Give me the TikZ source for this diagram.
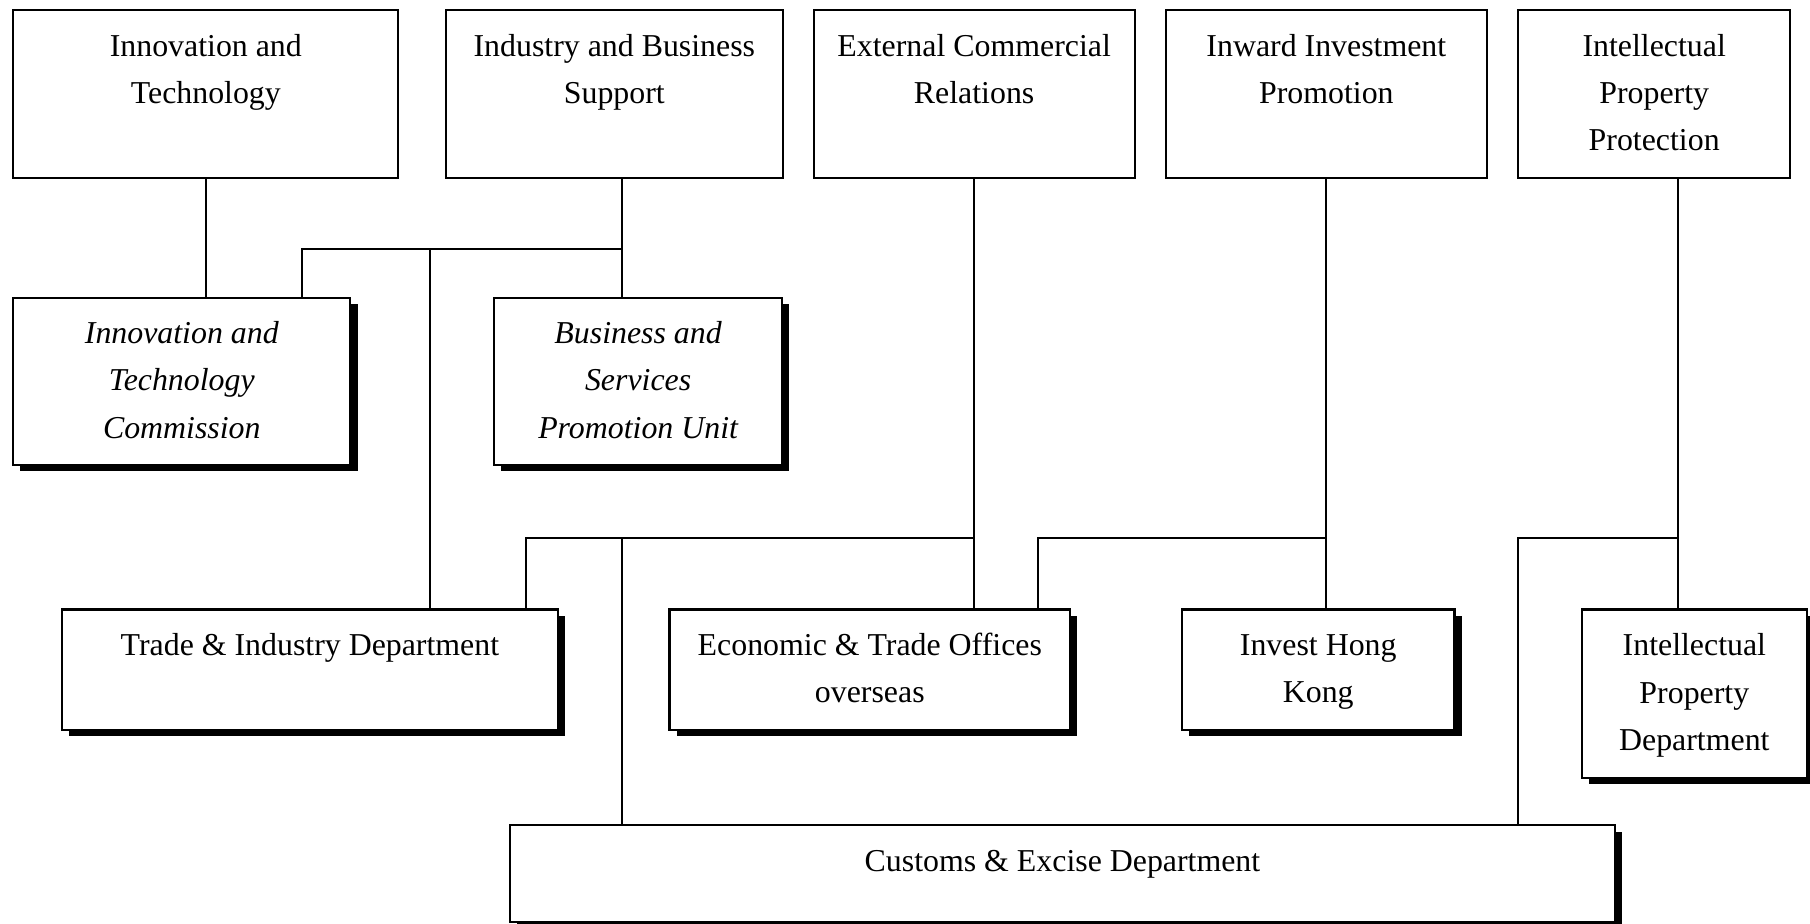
\documentclass[tikz,border=0pt]{standalone}
\usepackage{fontspec}
\setmainfont{Liberation Serif}
\usetikzlibrary{shadows}
\newcommand\boxfont{\fontsize{13.8pt}{20.5pt}\selectfont}
\begin{document}
\begin{tikzpicture}[x=0.5pt,y=-0.5pt,
  box/.style={draw, line width=0.9pt, fill=white, inner sep=0pt, align=center, font=\boxfont},
  tbox/.style={box, minimum height=72.9pt},
  sbox/.style={box, drop shadow={shadow xshift=3.1pt, shadow yshift=-2.7pt, fill=black, opacity=1}},
  ibox/.style={sbox, font=\boxfont\itshape},
  conn/.style={line width=0.85pt, line cap=rect}]
\useasboundingbox (0,0) rectangle (1568,800);
\fill[white] (0,0) rectangle (1568,800);

% top row
\node[tbox, minimum width=166.7pt] (T1) at (178.3,81.6) {\strut Innovation and\\Technology\\\strut};
\node[tbox, minimum width=146.2pt] (T2) at (532.2,81.6) {\strut Industry and Business\\Support\\\strut};
\node[tbox, minimum width=139pt]   (T3) at (843.9,81.6) {\strut External Commercial\\Relations\\\strut};
\node[tbox, minimum width=139.1pt] (T4) at (1149,81.6)  {\strut Inward Investment\\Promotion\\\strut};
\node[tbox, minimum width=118pt]   (T5) at (1433,81.6)  {\strut Intellectual\\Property\\Protection\strut};

% second row
\node[ibox, minimum width=146pt, minimum height=72.5pt] (ITC) at (157.5,330.5) {\strut Innovation and\\Technology\\Commission\strut};
\node[ibox, minimum width=124.8pt, minimum height=72.5pt] (BSPU) at (552.8,330.5) {\strut Business and\\Services\\Promotion Unit\strut};

% third row
\node[sbox, minimum width=215pt, minimum height=52.2pt] (TID) at (268.5,580.2) {\strut Trade \& Industry Department\\\strut};
\node[sbox, minimum width=173.5pt, minimum height=52.2pt] (ETO) at (753.5,580.2) {\strut Economic \& Trade Offices\\overseas\strut};
\node[sbox, minimum width=118pt, minimum height=52.2pt] (IHK) at (1142,580.2) {\strut Invest Hong\\Kong\strut};
\node[sbox, minimum width=97.3pt, minimum height=72.9pt] (IPD) at (1467.8,600.9) {\strut Intellectual\\Property\\Department\strut};

% bottom
\node[sbox, minimum width=478.7pt, minimum height=41.8pt, text height=10pt, text depth=12pt] (CED) at (920.4,756.8) {Customs \& Excise Department};

% junction coordinates
\coordinate (j2) at (538.5,216);
\coordinate (j2a) at (261.7,216);
\coordinate (j2b) at (372.5,216);
\coordinate (j3) at (843.9,466);
\coordinate (j3a) at (455.7,466);
\coordinate (j3b) at (539,466);
\coordinate (j4) at (1149,466);
\coordinate (j4a) at (899,466);
\coordinate (j5) at (1453.5,466);
\coordinate (j5a) at (1315,466);

% connectors
\draw[conn] (T1.south) -- (T1.south |- ITC.north);
\draw[conn] (T2.south -| j2) -- (BSPU.north -| j2);
\draw[conn] (j2) -- (j2a) -- (ITC.north -| j2a);
\draw[conn] (j2b) -- (TID.north -| j2b);
\draw[conn] (T3.south -| j3) -- (ETO.north -| j3);
\draw[conn] (j3) -- (j3a) -- (TID.north -| j3a);
\draw[conn] (j3b) -- (CED.north -| j3b);
\draw[conn] (T4.south -| j4) -- (IHK.north -| j4);
\draw[conn] (j4) -- (j4a) -- (ETO.north -| j4a);
\draw[conn] (T5.south -| j5) -- (IPD.north -| j5);
\draw[conn] (j5) -- (j5a) -- (CED.north -| j5a);
\end{tikzpicture}
\end{document}
